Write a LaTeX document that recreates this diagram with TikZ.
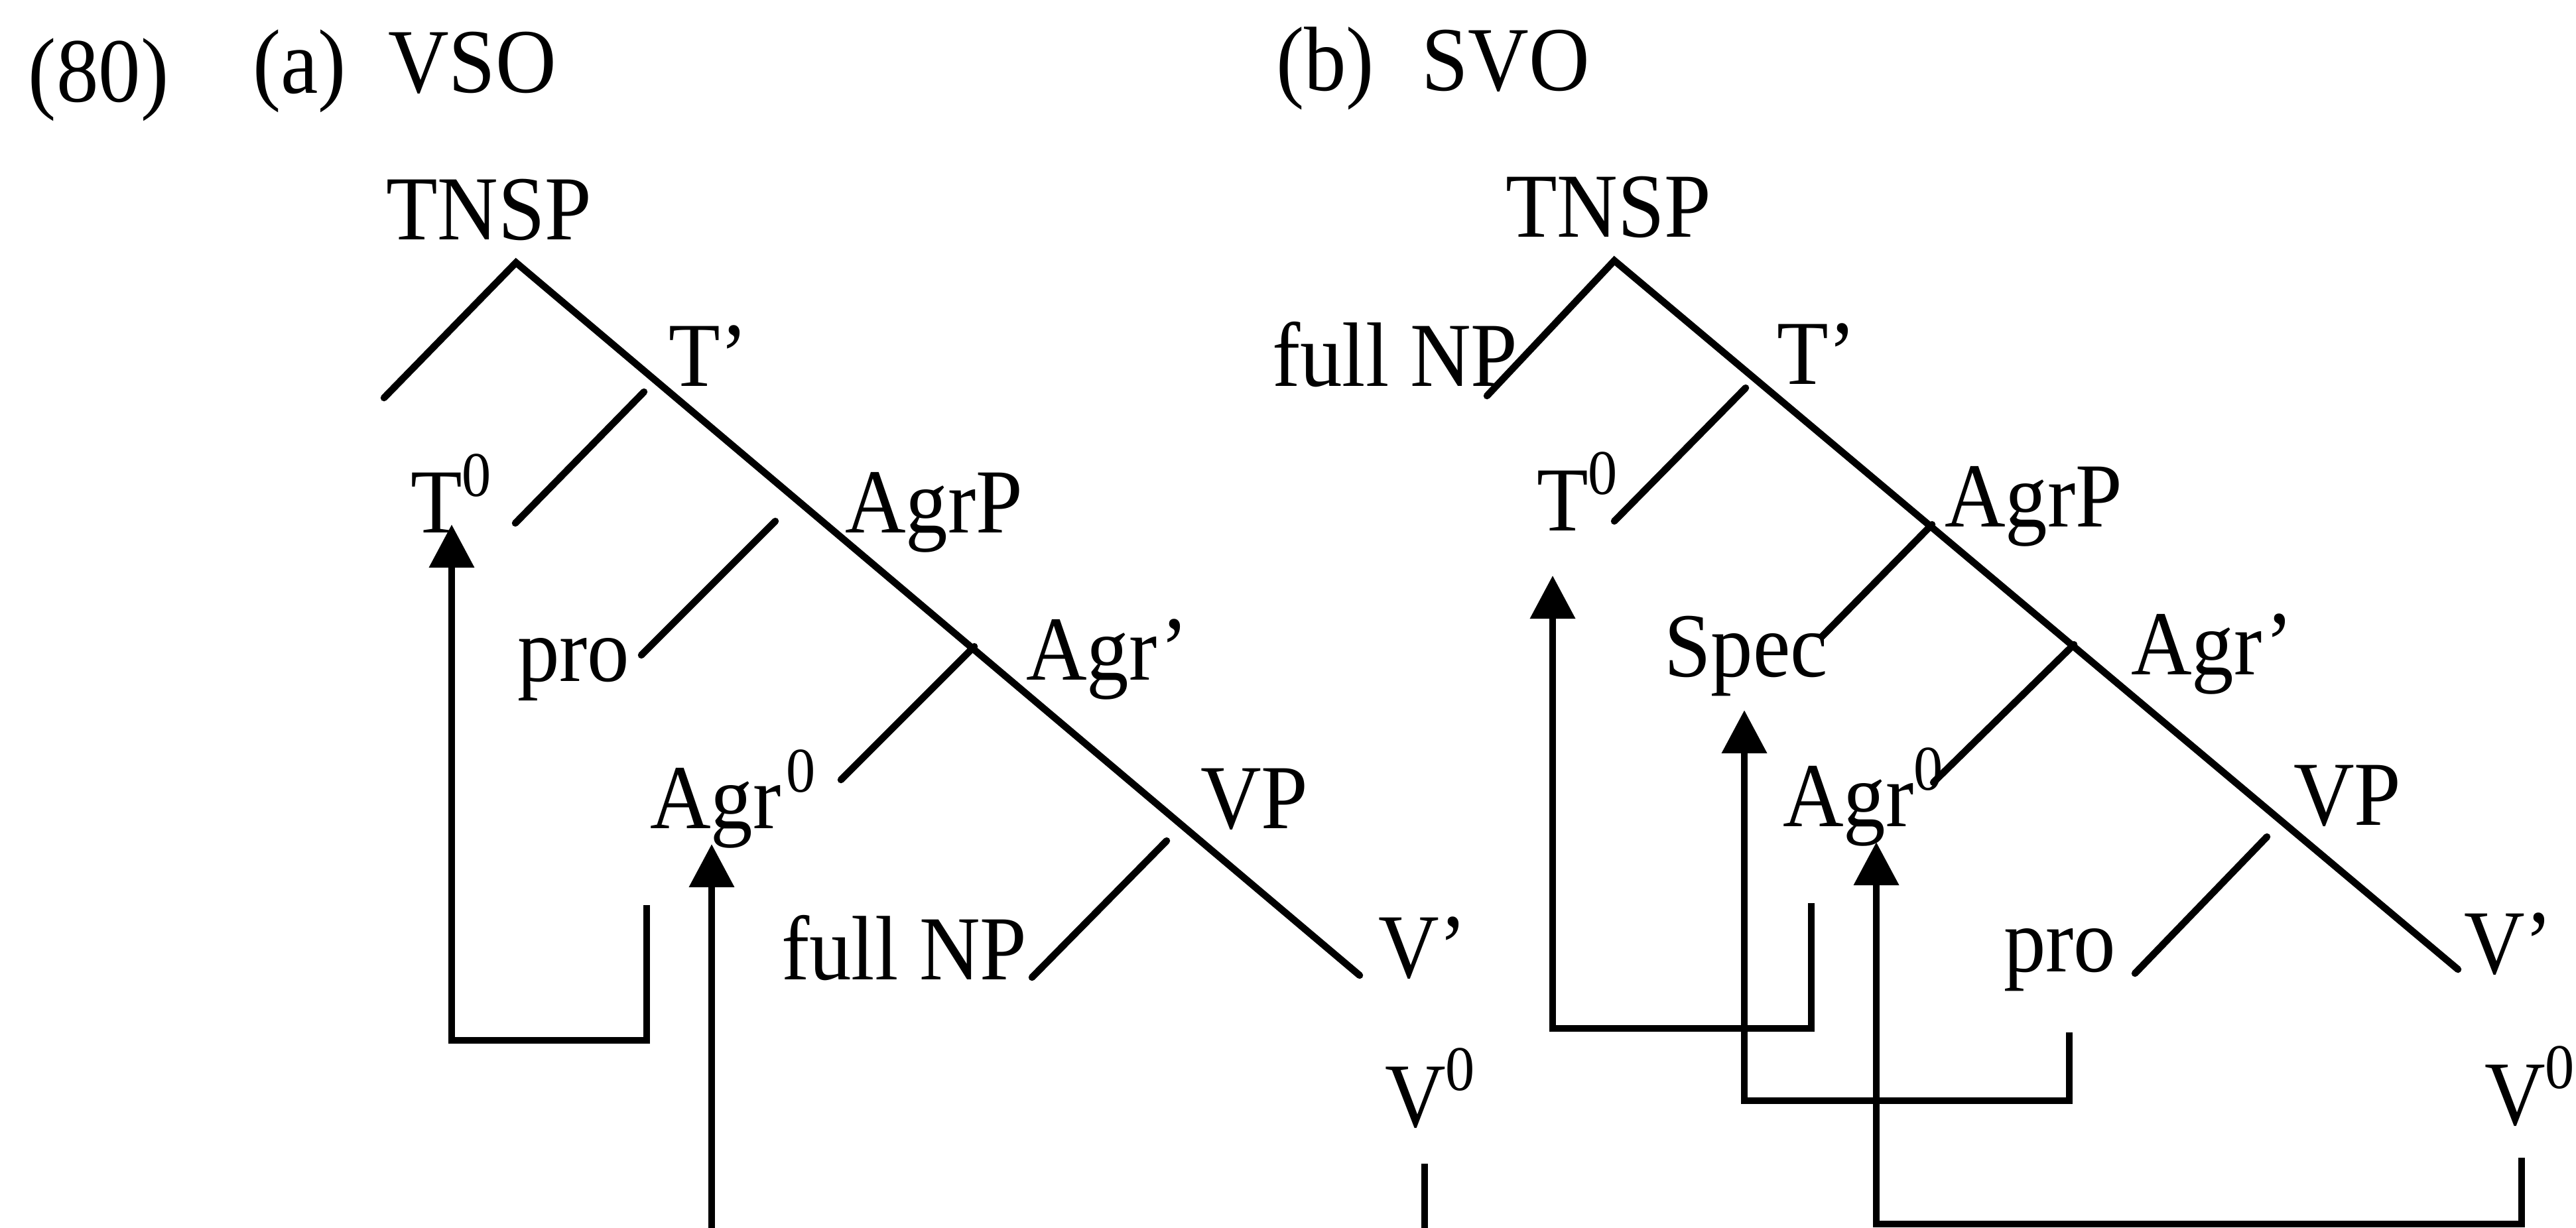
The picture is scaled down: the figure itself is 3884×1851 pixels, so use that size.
\documentclass[tikz,border=0pt]{standalone}
\usepackage{fontspec}
\setmainfont{Liberation Serif}[FakeStretch=0.92]
\usetikzlibrary{arrows.meta}
\newcommand\zsup{\raisebox{5.5pt}{\fontsize{9.6pt}{10pt}\selectfont 0}}
\begin{document}
\begin{tikzpicture}[x=0.1pt,y=-0.1pt,
  lbl/.style={inner sep=0pt,outer sep=0pt,anchor=base west,font=\fontsize{13.8pt}{16pt}\selectfont},
  branch/.style={line width=1.05pt,line cap=round},
  mv/.style={line width=1.05pt,line join=miter},
  mvarrow/.style={mv,-{Triangle[width=6.6pt,length=6.5pt]}}]
\useasboundingbox (0,0) rectangle (3884,1851);
% headings
\node[lbl] (ex) at (43,153) {(80)};
\node[lbl] (pa) at (381,140) {(a)};
\node[lbl] (vso) at (585,139) {VSO};
\node[lbl] (pb) at (1924,136) {(b)};
\node[lbl] (svo) at (2143,136) {SVO};
% ---------- tree (a) labels
\node[lbl] (aTNSP) at (582,361) {TNSP};
\node[lbl] (aTbar) at (1008,582) {T’};
\node[lbl] (aT0) at (619,803) {T\zsup};
\node[lbl] (aAgrP) at (1274,803) {AgrP};
\node[lbl] (apro) at (780,1027) {pro};
\node[lbl] (aAgrbar) at (1547,1025) {Agr’};
\node[lbl] (aAgr0) at (980,1249) {Agr\kern0.8pt\zsup};
\node[lbl] (aVP) at (1810,1249) {VP};
\node[lbl] (aNP) at (1178,1477) {full NP};
\node[lbl] (aVbar) at (2078,1474) {V’};
\node[lbl] (aV0) at (2088,1699) {V\zsup};
% tree (a) points
\coordinate (aTop) at (778,396);
\coordinate (aL1) at (579,600);
\coordinate (aEnd) at (2050,1471);
\coordinate (aB1s) at (971,591);  \coordinate (aB1e) at (777,789);
\coordinate (aB2s) at (1169,786); \coordinate (aB2e) at (967,988);
\coordinate (aB3s) at (1469,975); \coordinate (aB3e) at (1268,1176);
\coordinate (aB4s) at (1759,1268);\coordinate (aB4e) at (1556,1474);
\draw[branch] (aL1) -- (aTop) -- (aEnd);
\draw[branch] (aB1s) -- (aB1e);
\draw[branch] (aB2s) -- (aB2e);
\draw[branch] (aB3s) -- (aB3e);
\draw[branch] (aB4s) -- (aB4e);
% tree (a) movement
\coordinate (aM1a) at (975,1365); \coordinate (aM1b) at (975,1569);
\coordinate (aM1c) at (681,1569); \coordinate (aM1tip) at (681,791);
\draw[mvarrow] (aM1a) -- (aM1b) -- (aM1c) -- (aM1tip);
\coordinate (aM2a) at (1073,1860); \coordinate (aM2tip) at (1073,1273);
\draw[mvarrow] (aM2a) -- (aM2tip);
\coordinate (aM3a) at (2148,1755); \coordinate (aM3b) at (2148,1860);
\draw[mv] (aM3a) -- (aM3b);
% ---------- tree (b) labels
\node[lbl] (bTNSP) at (2270,357) {TNSP};
\node[lbl] (bNP) at (1918,582) {full NP};
\node[lbl] (bTbar) at (2679,579) {T’};
\node[lbl] (bT0) at (2317,800) {T\zsup};
\node[lbl] (bAgrP) at (2932,794) {AgrP};
\node[lbl] (bSpec) at (2509,1020) {Spec};
\node[lbl] (bAgrbar) at (3213,1017) {Agr’};
\node[lbl] (bAgr0) at (2688,1246) {Agr\zsup};
\node[lbl] (bVP) at (3458,1244) {VP};
\node[lbl] (bpro) at (3021,1465) {pro};
\node[lbl] (bVbar) at (3715,1468) {V’};
\node[lbl] (bV0) at (3746,1696) {V\zsup};
% tree (b) points
\coordinate (bTop) at (2434,393);
\coordinate (bL1) at (2242,597);
\coordinate (bEnd) at (3706,1462);
\coordinate (bB1s) at (2632,585);  \coordinate (bB1e) at (2434,786);
\coordinate (bB2s) at (2913,791);  \coordinate (bB2e) at (2747,960);
\coordinate (bB3s) at (3127,972);  \coordinate (bB3e) at (2915,1180);
\coordinate (bB4s) at (3418,1262); \coordinate (bB4e) at (3219,1468);
\draw[branch] (bL1) -- (bTop) -- (bEnd);
\draw[branch] (bB1s) -- (bB1e);
\draw[branch] (bB2s) -- (bB2e);
\draw[branch] (bB3s) -- (bB3e);
\draw[branch] (bB4s) -- (bB4e);
% tree (b) movement
\coordinate (bM1a) at (2731,1362); \coordinate (bM1b) at (2731,1551);
\coordinate (bM1c) at (2341,1551); \coordinate (bM1tip) at (2341,868);
\draw[mvarrow] (bM1a) -- (bM1b) -- (bM1c) -- (bM1tip);
\coordinate (bM2a) at (3120,1557); \coordinate (bM2b) at (3120,1660);
\coordinate (bM2c) at (2630,1660); \coordinate (bM2tip) at (2630,1071);
\draw[mvarrow] (bM2a) -- (bM2b) -- (bM2c) -- (bM2tip);
\coordinate (bM3a) at (3802,1746); \coordinate (bM3b) at (3802,1846);
\coordinate (bM3c) at (2829,1846); \coordinate (bM3tip) at (2829,1270);
\draw[mvarrow] (bM3a) -- (bM3b) -- (bM3c) -- (bM3tip);
\end{tikzpicture}
\end{document}
